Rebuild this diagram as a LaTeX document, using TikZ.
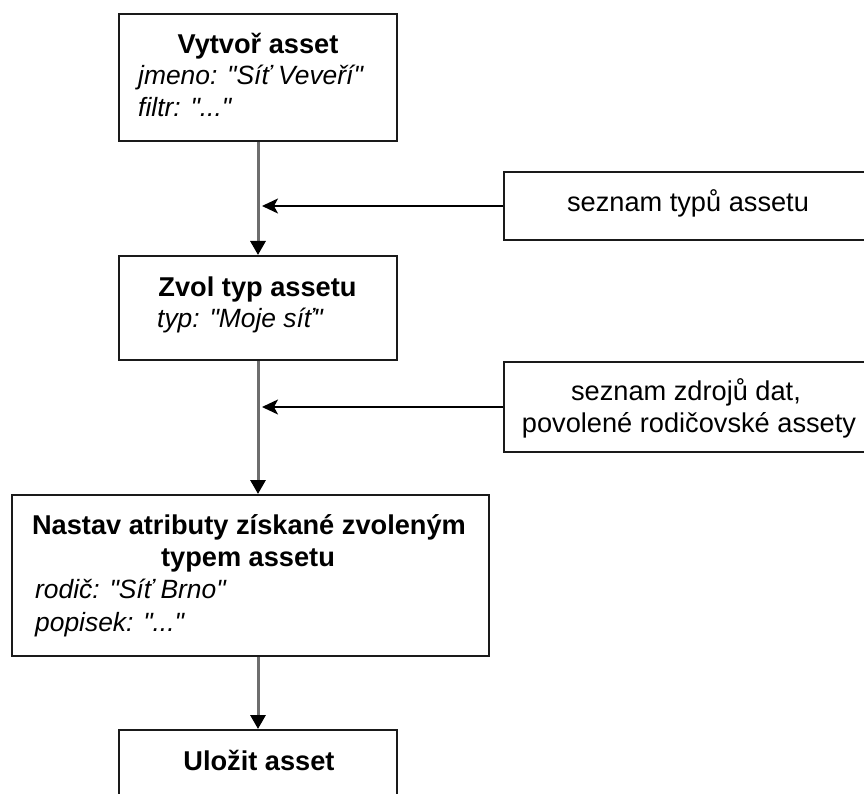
\documentclass[tikz,border=0pt]{standalone}
\usepackage{fontspec}
\setmainfont{Liberation Sans}[Ligatures=TeXOff]
\usetikzlibrary{arrows.meta}
\definecolor{edge}{HTML}{1A1A1A}
\definecolor{flow}{HTML}{6E6E6E}
\tikzset{
  box/.style={draw=edge, line width=2pt, fill=white, inner sep=0pt},
  txt/.style={inner sep=0pt, anchor=base, font=\fontsize{27.2pt}{32pt}\selectfont},
  txtl/.style={txt, anchor=base west, font=\fontsize{26.4pt}{32pt}\selectfont\itshape},
  bold/.style={txt, font=\fontsize{27.2pt}{32pt}\selectfont\bfseries},
  flowarrow/.style={draw=flow, line width=3pt, -{Triangle[length=14pt,width=15pt,color=black]}},
  inarrow/.style={draw=black, line width=1.6pt, -{Stealth[length=16pt,width=15pt,inset=4pt]}}
}
\begin{document}
\begin{tikzpicture}[x=1pt,y=-1pt]
\useasboundingbox (0,0) rectangle (864,794);
\clip (0,0) rectangle (864,794);

% main flow boxes
\node[box, minimum width=278pt, minimum height=127pt] (create) at (258,77.5) {};
\node[box, minimum width=278pt, minimum height=104pt] (type) at (258,308) {};
\node[box, minimum width=477pt, minimum height=161pt] (attrs) at (250.5,575.5) {};
\node[box, minimum width=278pt, minimum height=110pt] (save) at (258,785) {};

% input boxes on the right
\node[box, minimum width=368pt, minimum height=68pt] (types) at (688,206) {};
\node[box, minimum width=368pt, minimum height=90pt] (sources) at (688,407) {};

% texts
\node[bold] (t1) at (258,54) {Vytvoř asset};
\node[txtl] (t1a) at (138,85) {jmeno: "Síť Veveří"};
\node[txtl] (t1b) at (138,117) {filtr: "..."};

\node[bold] (t2) at (257.5,296) {Zvol typ assetu};
\node[txtl] (t2a) at (157,327) {typ: "Moje síť"};

\node[bold] (t3) at (249,534) {Nastav atributy získané zvoleným};
\node[bold] (t3b) at (248,566) {typem assetu};
\node[txtl] (t3c) at (35,598) {rodič: "Síť Brno"};
\node[txtl] (t3d) at (35,631) {popisek: "..."};

\node[bold] (t4) at (259,770) {Uložit asset};

\node[txt] (r1) at (688,212) {seznam typů assetu};
\node[txt] (r2a) at (686,400) {seznam zdrojů dat,};
\node[txt] (r2b) at (689,432) {povolené rodičovské assety};

% junction points on the flow line
\coordinate (j1) at (262,206);
\coordinate (j2) at (262,407);

% flow connectors
\draw[flowarrow] (create.south) -- (type.north);
\draw[flowarrow] (type.south) -- (type.south |- attrs.north);
\draw[flowarrow] (attrs.south -| save.north) -- (save.north);

% inputs feeding the flow
\draw[inarrow] (types.west) -- (j1);
\draw[inarrow] (sources.west) -- (j2);
\end{tikzpicture}
\end{document}
